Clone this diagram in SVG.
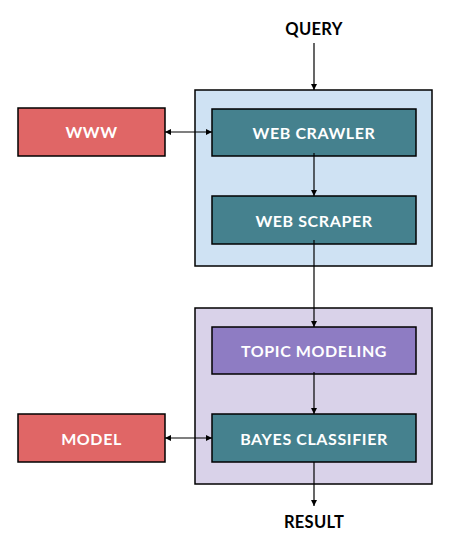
<svg xmlns="http://www.w3.org/2000/svg" width="465" height="538" viewBox="0 0 465 538">
<style>
.box{stroke:#000;stroke-width:1.5}
.lbl{font-family:Lato,"DejaVu Sans",sans-serif;font-weight:bold;font-size:16px;letter-spacing:0.6px;fill:#fff;text-anchor:middle;dominant-baseline:central}
.ext{font-family:Lato,"DejaVu Sans",sans-serif;font-weight:bold;font-size:16.5px;letter-spacing:0.3px;fill:#000;text-anchor:middle}
.cn{stroke:#000;stroke-width:1.2;fill:none}
</style>
<defs>
<marker id="ah" viewBox="0 0 10 10" refX="10" refY="5" markerWidth="5" markerHeight="5" orient="auto-start-reverse">
<path d="M0,0 L10,5 L0,10 z" fill="#000"/>
</marker>
</defs>
<g id="container-web"><rect class="box" x="195" y="90" width="237" height="176" fill="#CFE2F3"/></g>
<g id="container-analysis"><rect class="box" x="195" y="308" width="237" height="176" fill="#D9D2E9"/></g>
<g id="query"><text class="ext" x="314" y="35">QUERY</text></g>
<g id="result"><text class="ext" x="314" y="528">RESULT</text></g>
<g id="www"><rect class="box" x="18" y="108" width="147" height="48" fill="#E06666"/><text class="lbl" x="91.5" y="131">WWW</text></g>
<g id="model"><rect class="box" x="18" y="414" width="147" height="48" fill="#E06666"/><text class="lbl" x="91.5" y="438">MODEL</text></g>
<g id="web-crawler"><rect class="box" x="212" y="109" width="204" height="47" fill="#45818E"/><text class="lbl" x="314" y="132.5">WEB CRAWLER</text></g>
<g id="web-scraper"><rect class="box" x="212" y="196" width="204" height="48" fill="#45818E"/><text class="lbl" x="314" y="220">WEB SCRAPER</text></g>
<g id="topic-modeling"><rect class="box" x="212" y="327" width="204" height="47" fill="#8E7CC3"/><text class="lbl" x="314" y="350.5">TOPIC MODELING</text></g>
<g id="bayes-classifier"><rect class="box" x="212" y="414" width="204" height="48" fill="#45818E"/><text class="lbl" x="314" y="438">BAYES CLASSIFIER</text></g>
<g id="connectors">
<line class="cn" x1="314" y1="43" x2="314" y2="90" marker-end="url(#ah)"/>
<line class="cn" x1="165" y1="132" x2="212" y2="132" marker-start="url(#ah)" marker-end="url(#ah)"/>
<line class="cn" x1="314" y1="153" x2="314" y2="196" marker-end="url(#ah)"/>
<line class="cn" x1="314" y1="240" x2="314" y2="327" marker-end="url(#ah)"/>
<line class="cn" x1="314" y1="372" x2="314" y2="414" marker-end="url(#ah)"/>
<line class="cn" x1="165" y1="438" x2="212" y2="438" marker-start="url(#ah)" marker-end="url(#ah)"/>
<line class="cn" x1="314" y1="462" x2="314" y2="506" marker-end="url(#ah)"/>
</g>
</svg>
